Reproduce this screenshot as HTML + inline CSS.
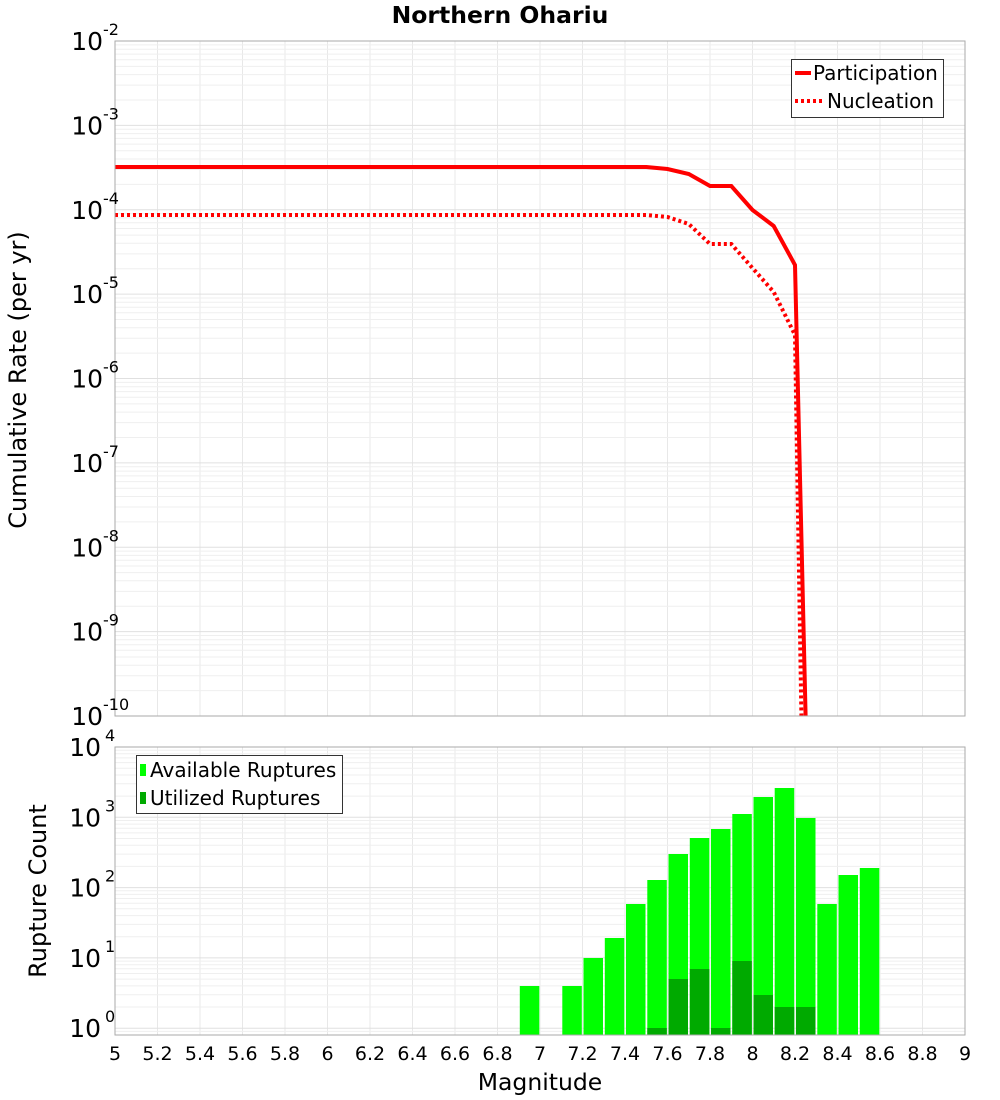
<!DOCTYPE html>
<html><head><meta charset="utf-8"><style>
body{margin:0;background:#fff;}
svg{display:block;font-family:"DejaVu Sans","Liberation Sans",sans-serif;}
</style></head><body>
<svg id="s" width="1000" height="1100" xmlns="http://www.w3.org/2000/svg"></svg>
<script>
const s=document.getElementById('s');let h='';
const X=m=>115+(m-5)*212.5;
const T0=41,T1=716,dT=84.375;
const Ty=l=>T0+(-2-l)*dT;
const B0=747,B1=1035,dB=70.3;
const By=l=>B0+(4-l)*dB;
h+=`<rect x="115" y="41" width="850" height="675" fill="#fff"/>`;
h+=`<rect x="115" y="747" width="850" height="288" fill="#fff"/>`;
for(let m=5.2;m<9;m+=0.2){const x=X(m).toFixed(1);h+=`<line x1="${x}" y1="41" x2="${x}" y2="716" stroke="#e8e8e8"/><line x1="${x}" y1="747" x2="${x}" y2="1035" stroke="#e8e8e8"/>`;}
for(let d=-10;d<-2;d++){for(let k=1;k<10;k++){const y=Ty(d+Math.log10(k));h+=`<line x1="115" y1="${y.toFixed(1)}" x2="965" y2="${y.toFixed(1)}" stroke="${k==1?'#e0e0e0':'#efefef'}"/>`;}}
for(let d=-1;d<4;d++){for(let k=1;k<10;k++){const y=By(d+Math.log10(k));if(y>1035||y<747)continue;h+=`<line x1="115" y1="${y.toFixed(1)}" x2="965" y2="${y.toFixed(1)}" stroke="${k==1?'#e0e0e0':'#efefef'}"/>`;}}
const P=[[5,167],[7.5,167],[7.6,169],[7.7,174],[7.8,186],[7.9,186],[8.0,210],[8.1,226],[8.2,265],[8.25,716]];
const N=[[5,215],[7.5,215],[7.6,217],[7.7,224],[7.8,244],[7.9,244],[8.0,268],[8.1,292],[8.2,335],[8.23,716]];
const pts=a=>a.map(p=>X(p[0]).toFixed(1)+','+p[1]).join(' ');
h+=`<polyline points="${pts(N)}" fill="none" stroke="#f00" stroke-width="4" stroke-dasharray="3,3"/>`;
h+=`<polyline points="${pts(P)}" fill="none" stroke="#f00" stroke-width="4"/>`;
const A=[[6.9,986],[7.1,986],[7.2,958],[7.3,938],[7.4,904],[7.5,880],[7.6,854],[7.7,838],[7.8,829],[7.9,814],[8.0,797],[8.1,788],[8.2,818],[8.3,904],[8.4,875],[8.5,868]];
const U=[[7.5,1028],[7.6,979],[7.7,969],[7.8,1028],[7.9,961],[8.0,995],[8.1,1007],[8.2,1007]];
for(const [m,y] of A)h+=`<rect x="${(X(m)+1).toFixed(1)}" y="${y}" width="19.5" height="${1035-y}" fill="#00ff00"/>`;
for(const [m,y] of U)h+=`<rect x="${(X(m)+1).toFixed(1)}" y="${y}" width="19.5" height="${1035-y}" fill="#00aa00"/>`;
h+=`<rect x="115" y="41" width="850" height="675" fill="none" stroke="#aaa"/>`;
h+=`<rect x="115" y="747" width="850" height="288" fill="none" stroke="#aaa"/>`;
for(let d=-10;d<=-2;d++){const y=Ty(d);h+=`<text x="103" y="${y+9}" font-size="25" text-anchor="end">10</text><text x="103" y="${y-6}" font-size="16">${d}</text>`;}
for(let d=0;d<=4;d++){const y=By(d);h+=`<text x="101" y="${y+9}" font-size="25" text-anchor="end">10</text><text x="105" y="${y-6}" font-size="16">${d}</text>`;}
for(let i=0;i<=20;i++){const m=5+i*0.2;let t=(Math.round(m*10)/10).toString();h+=`<text x="${X(m).toFixed(1)}" y="1060" font-size="19" text-anchor="middle">${t}</text>`;}
h+=`<text x="540" y="1090" font-size="23.5" text-anchor="middle">Magnitude</text>`;
h+=`<text transform="translate(26,380) rotate(-90)" font-size="24" text-anchor="middle">Cumulative Rate (per yr)</text>`;
h+=`<text transform="translate(46,891) rotate(-90)" font-size="24" text-anchor="middle">Rupture Count</text>`;
h+=`<text x="500" y="23" font-size="23.5" font-weight="bold" text-anchor="middle">Northern Ohariu</text>`;
h+=`<rect x="791.5" y="59.5" width="152" height="58" fill="#fff" stroke="#333"/>`;
h+=`<line x1="795" y1="73" x2="811" y2="73" stroke="#f00" stroke-width="4"/><text x="813" y="80" font-size="20">Participation</text>`;
h+=`<line x1="795" y1="101" x2="823" y2="101" stroke="#f00" stroke-width="4" stroke-dasharray="3,3"/><text x="827" y="108" font-size="20">Nucleation</text>`;
h+=`<rect x="136.5" y="755.5" width="206" height="58" fill="#fff" stroke="#333"/>`;
h+=`<rect x="140" y="764" width="6" height="12" fill="#00ff00"/><text x="150" y="777" font-size="20">Available Ruptures</text>`;
h+=`<rect x="140" y="792" width="6" height="12" fill="#00aa00"/><text x="150" y="805" font-size="20">Utilized Ruptures</text>`;
s.innerHTML=h;
</script>
</body></html>
